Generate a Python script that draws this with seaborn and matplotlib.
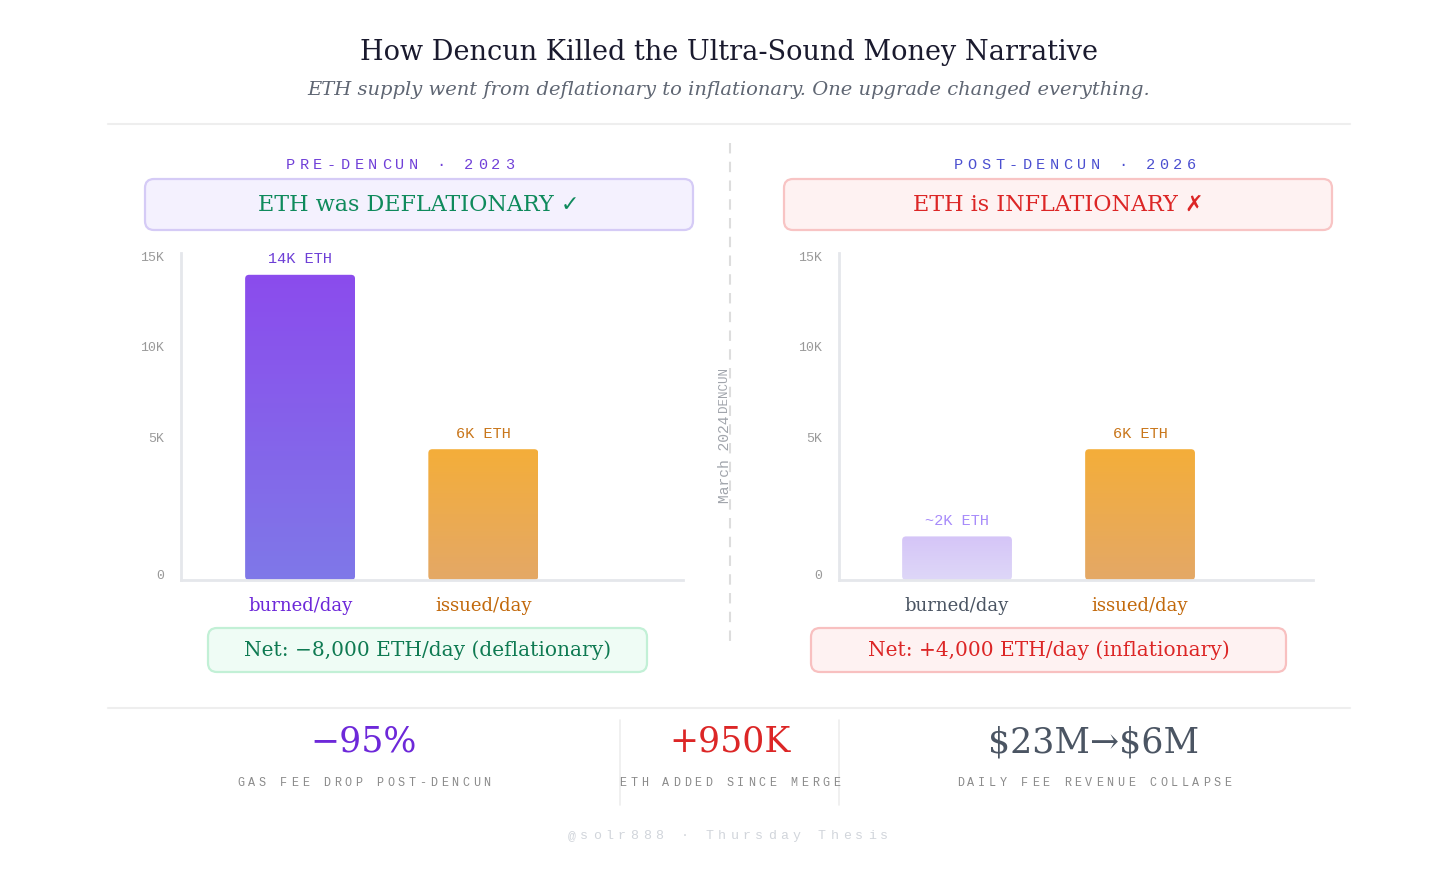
import numpy as np
import matplotlib
matplotlib.use("Agg")
import matplotlib.pyplot as plt
import matplotlib.transforms as mtransforms
from matplotlib.patches import FancyBboxPatch
from matplotlib.colors import to_rgb
import seaborn as sns

# data
categories = ["burned/day", "issued/day"]
pre_values = [14000, 6000]
post_values = [2000, 6000]
pre_labels = ["14K ETH", "6K ETH"]
post_labels = ["~2K ETH", "6K ETH"]
tick_labels = ["0", "5K", "10K", "15K"]
tick_pos = [230, 6540, 10700, 14860]   # html flex spacing, not linear
stat_values = ["\u221295%", "+950K", "$23M\u2192$6M"]
stat_captions = ["GAS FEE DROP POST-DENCUN", "ETH ADDED SINCE MERGE", "DAILY FEE REVENUE COLLAPSE"]

W, H = 1456, 869
SERIF = ["DejaVu Serif", "DejaVu Sans"]
MONO = ["Liberation Mono", "DejaVu Sans Mono"]

sns.set_theme(style="white")
plt.rcParams["font.family"] = SERIF

fig = plt.figure(figsize=(W / 100, H / 100), dpi=100)
fig.patch.set_facecolor("white")
px = mtransforms.Affine2D().scale(1 / 100, -1 / 100).translate(0, H / 100) + fig.dpi_scale_trans


def txt(x, y, s, **kw):
    kw.setdefault("ha", "center")
    kw.setdefault("va", "center")
    return fig.text(x, y, s, transform=px, parse_math=False, **kw)


def spaced(x, y, s, adv, **kw):
    # letter-spaced mono text, centred on x
    n = len(s)
    for i, c in enumerate(s):
        txt(x + (i - (n - 1) / 2) * adv, y, c, family=MONO, **kw)


def box(x0, y0, x1, y1, fc, ec, r=9):
    p = FancyBboxPatch((x0, y0), x1 - x0, y1 - y0, boxstyle=f"round,pad=0,rounding_size={r}",
                       transform=px, facecolor=fc, edgecolor=ec, linewidth=1.6)
    fig.patches.append(p)


def hline(y, x0, x1, color="#eeeeee"):
    fig.add_artist(plt.Line2D([x0, x1], [y, y], transform=px, color=color, lw=1.5))


# title
txt(729, 52, "How Dencun Killed the Ultra-Sound Money Narrative", fontsize=19.5, color="#1a1a2e")
txt(729, 90, "ETH supply went from deflationary to inflationary. One upgrade changed everything.",
    fontsize=14, style="italic", color="#5f6673")
hline(124, 108, 1350)
hline(708, 108, 1350)

# centre divider
fig.add_artist(plt.Line2D([730, 730], [143, 645], transform=px, color="#dddddd", lw=1.5,
                          linestyle=(0, (5, 4))))
txt(725, 459, "March 2024", rotation=90, family=MONO, fontsize=10.5, color="#a0a4ab")
txt(724, 389, "DENCUN", rotation=90, family=MONO, fontsize=9, color="#a0a4ab")

panels = [
    dict(x0=181, x1=683, xlim=(-0.65, 2.09), values=pre_values, labels=pre_labels,
         head="PRE-DENCUN \u00b7 2023", head_c="#7040d8", head_x=400,
         box=(145, 693), box_fc="#f4f1fe", box_ec="#d5cbf6",
         claim="ETH was DEFLATIONARY \u2713", claim_c="#0f8a5c",
         net="Net: \u22128,000 ETH/day (deflationary)", net_box=(208, 647),
         net_fc="#effcf5", net_ec="#c2f0d6", net_c="#0f7a52",
         grads=[("#8b4ced", "#7f78e8"), ("#f4ae3a", "#e4a866")],
         val_c=["#6d3fd6", "#c9761a"], cat_c=["#6d28d9", "#c2690c"]),
    dict(x0=839, x1=1313, xlim=(-0.645, 1.945), values=post_values, labels=post_labels,
         head="POST-DENCUN \u00b7 2026", head_c="#4b4fd0", head_x=1075,
         box=(784, 1332), box_fc="#fef2f2", box_ec="#f8c4c4",
         claim="ETH is INFLATIONARY \u2717", claim_c="#dc2626",
         net="Net: +4,000 ETH/day (inflationary)", net_box=(811, 1286),
         net_fc="#fef2f2", net_ec="#f8c0c0", net_c="#dc2626",
         grads=[("#d5c5f7", "#ded7f8"), ("#f4ae3a", "#e4a866")],
         val_c=["#a78bfa", "#c9761a"], cat_c=["#4b5563", "#c2690c"]),
]

for p in panels:
    spaced(p["head_x"], 165, p["head"], 13.7, fontsize=11, color=p["head_c"])
    box(p["box"][0], 179, p["box"][1], 230, p["box_fc"], p["box_ec"])
    txt((p["box"][0] + p["box"][1]) / 2, 205, p["claim"], fontsize=16, color=p["claim_c"])
    box(p["net_box"][0], 628, p["net_box"][1], 672, p["net_fc"], p["net_ec"])
    txt((p["net_box"][0] + p["net_box"][1]) / 2, 650, p["net"], fontsize=14.5, color=p["net_c"])

    ax = fig.add_axes([p["x0"] / W, 1 - 580 / H, (p["x1"] - p["x0"]) / W, 327 / H])
    sns.barplot(x=categories, y=p["values"], ax=ax, width=0.6, color="#cccccc")
    ax.set_xlim(*p["xlim"])
    ax.set_ylim(0, 15000)
    ax.set_facecolor("white")
    for s in ["top", "right"]:
        ax.spines[s].set_visible(False)
    for s in ["left", "bottom"]:
        ax.spines[s].set_color("#e5e7eb")
        ax.spines[s].set_linewidth(2)
    ax.set_yticks(tick_pos)
    ax.set_yticklabels(tick_labels, family=MONO, fontsize=9.5, color="#9a9a9a")
    ax.tick_params(axis="y", length=0, pad=12)
    ax.tick_params(axis="x", length=0, pad=12)
    ax.set_xticks(range(len(categories)))
    ax.set_xticklabels(categories, fontsize=13)
    for t, c in zip(ax.get_xticklabels(), p["cat_c"]):
        t.set_color(c)
    ax.set_xlabel("")
    ax.set_ylabel("")

    # gradient fill with rounded corners
    x_per_px = (p["xlim"][1] - p["xlim"][0]) / (p["x1"] - p["x0"])
    y_per_px = 15000 / 327
    for bar, (top, bot), lab, vc in zip(ax.patches, p["grads"], p["labels"], p["val_c"]):
        bx, bw, bh = bar.get_x(), bar.get_width(), bar.get_height()
        bar.set_visible(False)
        r = 4 * x_per_px
        clip = FancyBboxPatch((bx, 0), bw, bh, boxstyle=f"round,pad=0,rounding_size={r}",
                              mutation_aspect=y_per_px / x_per_px, transform=ax.transData,
                              facecolor="none", edgecolor="none")
        ax.add_patch(clip)
        t, b = np.array(to_rgb(top)), np.array(to_rgb(bot))
        g = np.linspace(0, 1, 64)[:, None, None]
        img = t * (1 - g) + b * g
        im = ax.imshow(img, extent=[bx, bx + bw, 0, bh], origin="upper", aspect="auto", zorder=2)
        im.set_clip_path(clip)
        ax.annotate(lab, (bx + bw / 2, bh), xytext=(0, 6), textcoords="offset points",
                    ha="center", va="bottom", family=MONO, fontsize=11, color=vc)
    ax.set_xlim(*p["xlim"])
    ax.set_ylim(0, 15000)

# bottom stats
stat_x = [364, 730, 1094]
stat_c = ["#6d28d9", "#dc2626", "#4b5563"]
for x, v, cap, c in zip(stat_x, stat_values, stat_captions, stat_c):
    txt(x, 742, v, fontsize=25, color=c)
    spaced(x, 783, cap, 10.7, fontsize=8.5, color="#8a8a8a")
for x in [620, 839]:
    fig.add_artist(plt.Line2D([x, x], [720, 805], transform=px, color="#eeeeee", lw=1.2))

spaced(728, 836, "@solr888 \u00b7 Thursday Thesis", 12.5, fontsize=9.5, color="#d1d5db")

fig.savefig("out.png", dpi=100, facecolor="white")
